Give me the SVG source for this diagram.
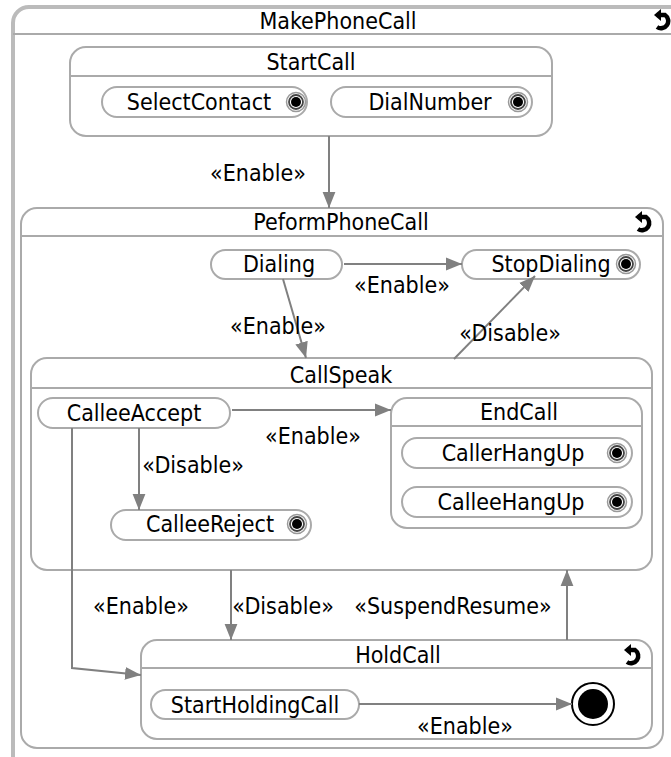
<svg xmlns="http://www.w3.org/2000/svg" width="671" height="757" viewBox="0 0 671 757">
<defs>
<style>
.box{fill:#fff;stroke:#aaa;stroke-width:2}
.outer{fill:#fff;stroke:#bbb;stroke-width:4}
.hl{stroke:#aaa;stroke-width:2}
.pill{fill:#fff;stroke:#aaa;stroke-width:2}
.t{font-family:"DejaVu Sans Condensed","DejaVu Sans",sans-serif;font-size:23px;fill:#000;text-anchor:middle}
.c{stroke:#808080;stroke-width:2;fill:none}
</style>
<marker id="ahb" viewBox="0 0 10 10" refX="10" refY="5" markerWidth="16" markerHeight="16" markerUnits="userSpaceOnUse" orient="auto">
<path d="M0,1 L10,5 L0,9 z" fill="#808080"/>
</marker>
<g id="fin">
<circle r="9.5" fill="#fff" stroke="#999" stroke-width="1.5"/>
<circle r="7" fill="#fff" stroke="#444" stroke-width="1.8"/>
<circle r="5" fill="#000"/>
</g>
<g id="rec">
<path d="M-7,-6 L1,-6 A6.5,6.5 0 1 1 -7,6" fill="none" stroke="#000" stroke-width="4.5"/>
<path d="M-10,-6 L-3,-12 L-3,0 z" fill="#000"/>
</g>
</defs>

<g id="MakePhoneCall">
<rect class="outer" x="13" y="7" width="700" height="800" rx="16"/>
<line x1="13" y1="34" x2="671" y2="34" class="hl"/>
<text class="t" x="338" y="29">MakePhoneCall</text>
<use href="#rec" x="664" y="21"/>
</g>

<g id="StartCall">
<rect class="box" x="70" y="47" width="482" height="89" rx="16"/>
<line x1="70" y1="76" x2="552" y2="76" class="hl"/>
<text class="t" x="311" y="70">StartCall</text>
</g>
<g id="SelectContact">
<rect class="pill" x="102" y="87" width="205" height="30" rx="15"/>
<text class="t" x="199" y="110">SelectContact</text>
<use href="#fin" x="296" y="102"/>
</g>
<g id="DialNumber">
<rect class="pill" x="331" y="87" width="201" height="30" rx="15"/>
<text class="t" x="430" y="110">DialNumber</text>
<use href="#fin" x="518" y="102"/>
</g>

<g id="PeformPhoneCall">
<rect class="box" x="21" y="208" width="642" height="540" rx="16"/>
<line x1="21" y1="236" x2="663" y2="236" class="hl"/>
<text class="t" x="341" y="230">PeformPhoneCall</text>
<use href="#rec" x="645" y="223"/>
</g>
<g id="Dialing">
<rect class="pill" x="211" y="250" width="131" height="29" rx="14.5"/>
<text class="t" x="279" y="272">Dialing</text>
</g>
<g id="StopDialing">
<rect class="pill" x="462" y="250" width="178" height="29" rx="14.5"/>
<text class="t" x="551" y="272">StopDialing</text>
<use href="#fin" x="626" y="264"/>
</g>

<g id="CallSpeak">
<rect class="box" x="31" y="358" width="621" height="212" rx="16"/>
<line x1="31" y1="388" x2="652" y2="388" class="hl"/>
<text class="t" x="341" y="383">CallSpeak</text>
</g>
<g id="CalleeAccept">
<rect class="pill" x="38" y="398" width="192" height="30" rx="15"/>
<text class="t" x="134" y="421">CalleeAccept</text>
</g>
<g id="EndCall">
<rect class="box" x="391" y="398" width="251" height="130" rx="16"/>
<line x1="391" y1="426" x2="642" y2="426" class="hl"/>
<text class="t" x="519" y="420">EndCall</text>
</g>
<g id="CallerHangUp">
<rect class="pill" x="402" y="438" width="230" height="30" rx="15"/>
<text class="t" x="513" y="461">CallerHangUp</text>
<use href="#fin" x="617" y="453"/>
</g>
<g id="CalleeHangUp">
<rect class="pill" x="402" y="487" width="230" height="30" rx="15"/>
<text class="t" x="511" y="510">CalleeHangUp</text>
<use href="#fin" x="617" y="502"/>
</g>
<g id="CalleeReject">
<rect class="pill" x="111" y="510" width="200" height="30" rx="15"/>
<text class="t" x="210" y="532">CalleeReject</text>
<use href="#fin" x="297" y="524"/>
</g>

<g id="HoldCall">
<rect class="box" x="141" y="640" width="511" height="99" rx="16"/>
<line x1="141" y1="668" x2="652" y2="668" class="hl"/>
<text class="t" x="398" y="663">HoldCall</text>
<use href="#rec" x="634" y="656"/>
</g>
<g id="StartHoldingCall">
<rect class="pill" x="151" y="690" width="208" height="29" rx="14.5"/>
<text class="t" x="255" y="713">StartHoldingCall</text>
</g>
<g id="FinalState">
<circle cx="593" cy="704" r="21" fill="#fff" stroke="#000" stroke-width="2"/>
<circle cx="593" cy="704" r="15" fill="#000"/>
</g>

<g id="connectors">
<line class="c" x1="329" y1="136" x2="329" y2="208" marker-end="url(#ahb)"/>
<text class="t" x="258" y="181">«Enable»</text>
<line class="c" x1="344" y1="264" x2="462" y2="264" marker-end="url(#ahb)"/>
<text class="t" x="402" y="293">«Enable»</text>
<line class="c" x1="283" y1="279" x2="306" y2="358" marker-end="url(#ahb)"/>
<text class="t" x="278" y="334">«Enable»</text>
<line class="c" x1="454" y1="359" x2="535" y2="276" marker-end="url(#ahb)"/>
<text class="t" x="510" y="341">«Disable»</text>
<line class="c" x1="232" y1="410" x2="391" y2="410" marker-end="url(#ahb)"/>
<text class="t" x="313" y="444">«Enable»</text>
<line class="c" x1="139" y1="428" x2="139" y2="510" marker-end="url(#ahb)"/>
<text class="t" x="193" y="473">«Disable»</text>
<polyline class="c" points="72,428 72,668 141,675" marker-end="url(#ahb)"/>
<text class="t" x="141" y="614">«Enable»</text>
<line class="c" x1="231" y1="570" x2="231" y2="640" marker-end="url(#ahb)"/>
<text class="t" x="283" y="614">«Disable»</text>
<line class="c" x1="567" y1="640" x2="567" y2="570" marker-end="url(#ahb)"/>
<text class="t" x="453" y="614">«SuspendResume»</text>
<line class="c" x1="359" y1="704" x2="572" y2="704" marker-end="url(#ahb)"/>
<text class="t" x="465" y="734">«Enable»</text>
</g>
</svg>
